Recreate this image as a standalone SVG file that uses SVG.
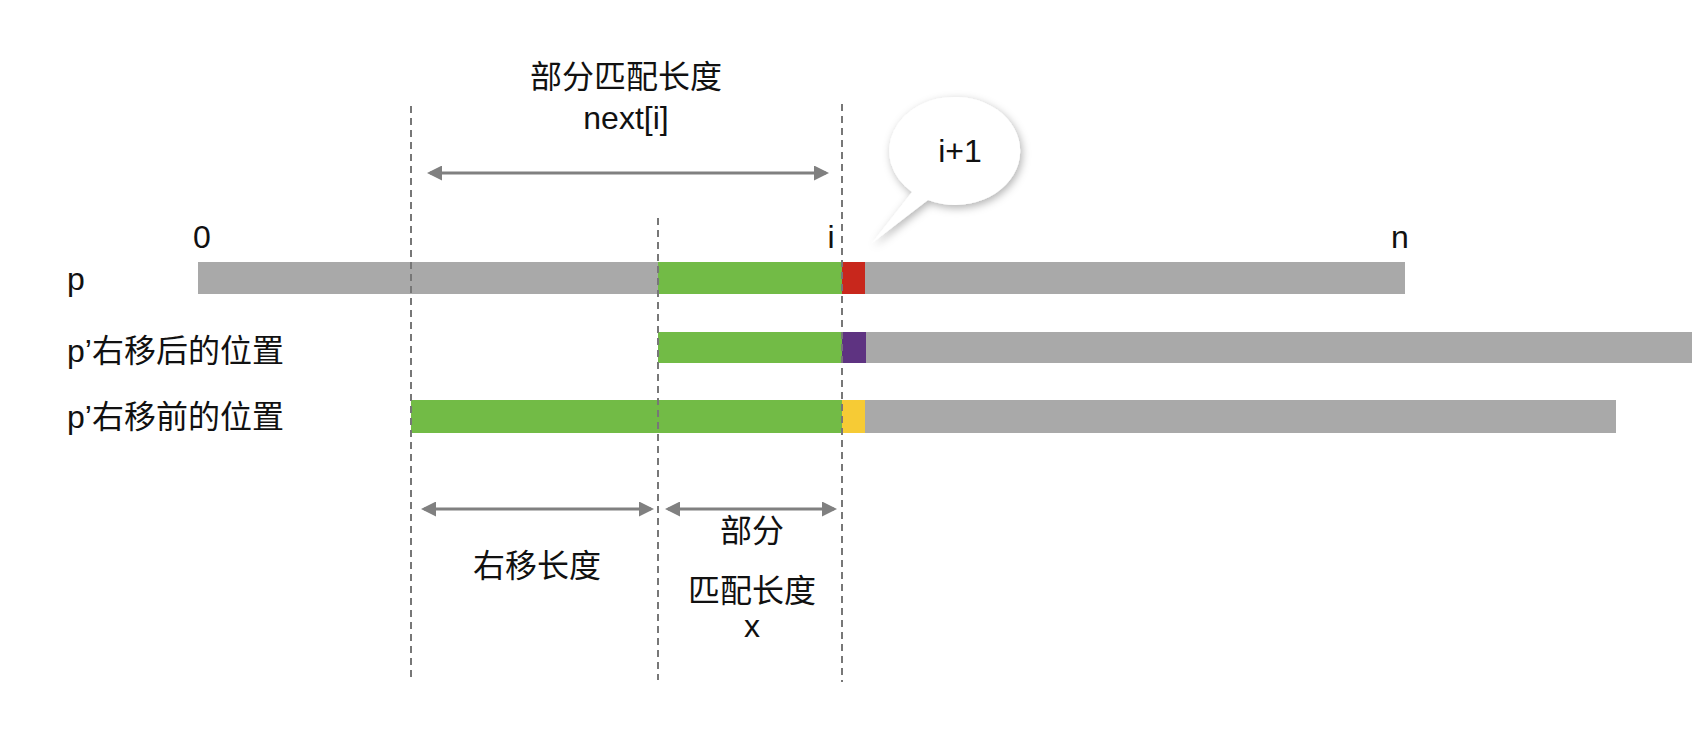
<svg xmlns="http://www.w3.org/2000/svg" width="1692" height="732" viewBox="0 0 1692 732">
<style>
text{font-family:"Liberation Sans","Noto Sans CJK SC",sans-serif;font-size:32px;fill:#111}
.d{stroke:#777;stroke-width:2;stroke-dasharray:7,5;fill:none}
.a{stroke:#808080;stroke-width:3;fill:none;marker-start:url(#h);marker-end:url(#h)}
.g{fill:#a9a9a9}.gr{fill:#72bb46}
</style>
<defs>
<marker id="h" viewBox="0 0 10 10" refX="8" refY="5" markerWidth="5" markerHeight="5" orient="auto-start-reverse"><path d="M0 0L10 5L0 10z" fill="#808080"/></marker>
<filter id="s" x="-30%" y="-30%" width="160%" height="160%"><feDropShadow dx="2" dy="3" stdDeviation="4" flood-opacity="0.3"/></filter>
</defs>
<g id="bar-p"><rect class="g" x="198" y="262" width="1207" height="32"/><rect class="gr" x="658" y="262" width="184" height="32"/><rect x="842" y="262" width="23" height="32" fill="#c8271c"/></g>
<g id="bar-after"><rect class="g" x="842" y="332" width="850" height="31"/><rect class="gr" x="658" y="332" width="184" height="31"/><rect x="842" y="332" width="24" height="31" fill="#5e3381"/></g>
<g id="bar-before"><rect class="g" x="842" y="400" width="774" height="33"/><rect class="gr" x="411" y="400" width="431" height="33"/><rect x="842" y="400" width="23" height="33" fill="#f6cb35"/></g>
<g id="connectors">
<line class="d" x1="411" y1="106" x2="411" y2="680"/>
<line class="d" x1="658" y1="218" x2="658" y2="680"/>
<line class="d" x1="842" y1="104" x2="842" y2="682"/>
<line class="a" x1="430" y1="173" x2="826" y2="173"/>
<line class="a" x1="424" y1="509" x2="651" y2="509"/>
<line class="a" x1="668" y1="509" x2="834" y2="509"/>
</g>
<g id="bubble"><path d="M958 97a65 54 0 1 1 -30 103L872 243L912 192A65 54 0 0 1 958 97z" fill="#fff" filter="url(#s)"/><text x="960" y="162" text-anchor="middle">i+1</text></g>
<g id="labels">
<text x="626" y="88" text-anchor="middle">部分匹配长度</text>
<text x="626" y="129" text-anchor="middle">next[i]</text>
<text x="202" y="248" text-anchor="middle">0</text>
<text x="831" y="248" text-anchor="middle">i</text>
<text x="1400" y="248" text-anchor="middle">n</text>
<text x="67" y="290">p</text>
<text x="67" y="362">p’右移后的位置</text>
<text x="67" y="428">p’右移前的位置</text>
<text x="537" y="577" text-anchor="middle">右移长度</text>
<text x="752" y="542" text-anchor="middle">部分</text>
<text x="752" y="602" text-anchor="middle">匹配长度</text>
<text x="752" y="637" text-anchor="middle">x</text>
</g>
</svg>
